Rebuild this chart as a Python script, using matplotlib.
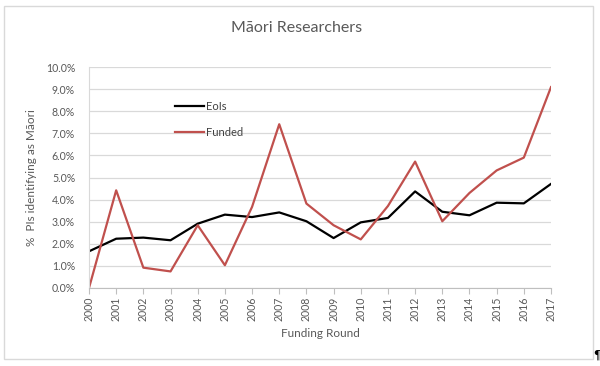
import matplotlib.pyplot as plt
from matplotlib.patches import Rectangle
from matplotlib.ticker import PercentFormatter
from matplotlib.lines import Line2D

years = [str(y) for y in range(2000, 2018)]
eois = [1.66, 2.23, 2.28, 2.16, 2.91, 3.32, 3.21, 3.42, 3.02, 2.26,
        2.97, 3.17, 4.37, 3.45, 3.29, 3.86, 3.83, 4.71]
funded = [0.0, 4.42, 0.92, 0.75, 2.84, 1.03, 3.67, 7.41, 3.82, 2.84,
          2.20, 3.71, 5.72, 3.02, 4.30, 5.32, 5.90, 9.09]

plt.rcParams['font.family'] = ['Lato', 'DejaVu Sans']
grey = '#595959'

fig = plt.figure(figsize=(6, 3.66), dpi=100)
ax = fig.add_axes([89 / 600, 1 - 288 / 366, 462 / 600, 221 / 366])

x = list(range(len(years)))
ax.plot(x, eois, color='black', lw=1.6)
ax.plot(x, funded, color='#c0504d', lw=1.6)

ax.set_xlim(0, len(years) - 1)
ax.set_ylim(0, 10)
ax.set_yticks(range(0, 11))
ax.yaxis.set_major_formatter(PercentFormatter(decimals=1))
ax.set_xticks(x)
ax.set_xticklabels(years, rotation=90)
ax.grid(axis='y', color='#d9d9d9', lw=0.9)
ax.set_axisbelow(True)
for s in ['top', 'right']:
    ax.spines[s].set_visible(False)
ax.spines['left'].set_color('#d9d9d9')
ax.spines['bottom'].set_color('#bfbfbf')
ax.tick_params(axis='y', length=0, labelsize=7.6, labelcolor=grey, pad=10)
ax.tick_params(axis='x', length=4, color='#bfbfbf', labelsize=7.6, labelcolor=grey, pad=2)

ax.set_xlabel('Funding Round', fontsize=8.5, color=grey, labelpad=5)
ax.set_ylabel('%  PIs identifying as Māori', fontsize=8.5, color=grey, labelpad=6)

handles = [Line2D([], [], color='black', lw=1.6), Line2D([], [], color='#c0504d', lw=1.6)]
leg = ax.legend(handles, ['EoIs', 'Funded'], loc='upper left', bbox_to_anchor=(0.165, 0.89),
                frameon=False, fontsize=8, handlelength=2.6, handletextpad=0.2,
                labelspacing=1.3)
for t in leg.get_texts():
    t.set_color('#404040')

fig.text(297 / 600, 1 - 28 / 366, 'Māori Researchers', ha='center', va='center',
         fontsize=11.5, color=grey)

fig.patches.append(Rectangle((4 / 600, 1 - 359 / 366), 589 / 600, 353 / 366,
                             transform=fig.transFigure, fill=False,
                             edgecolor='#d9d9d9', lw=1))
fig.text(597 / 600, 1 - 355 / 366, '¶', ha='center', va='center', fontsize=9,
         color='black', fontweight='bold', family='DejaVu Sans')

fig.savefig('out.png', dpi=100)
